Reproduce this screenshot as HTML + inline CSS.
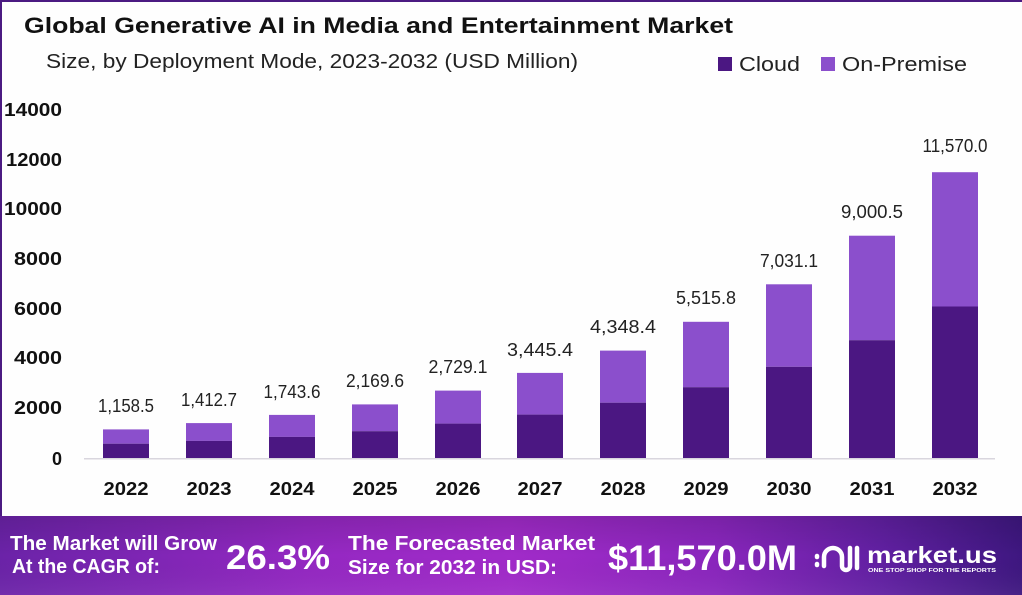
<!DOCTYPE html>
<html><head><meta charset="utf-8"><style>
html,body{margin:0;padding:0;background:#fff;}
svg{display:block;}
text{font-family:"Liberation Sans",sans-serif;}
</style></head><body>
<svg width="1022" height="595" viewBox="0 0 1022 595" xmlns="http://www.w3.org/2000/svg">
<defs>
<linearGradient id="bg" x1="0" y1="0" x2="1" y2="0">
<stop offset="0" stop-color="#6b23a8"/>
<stop offset="0.3" stop-color="#9428c2"/>
<stop offset="0.5" stop-color="#a12bc9"/>
<stop offset="0.7" stop-color="#8a26bd"/>
<stop offset="0.86" stop-color="#6220a3"/>
<stop offset="1" stop-color="#3e1780"/>
</linearGradient>
<linearGradient id="bgv" x1="0" y1="0" x2="0" y2="1">
<stop offset="0" stop-color="#000" stop-opacity="0.12"/>
<stop offset="0.5" stop-color="#000" stop-opacity="0"/>
<stop offset="1" stop-color="#fff" stop-opacity="0.05"/>
</linearGradient>
</defs>
<rect x="0" y="0" width="1022" height="595" fill="#fefefe"/>
<rect x="0" y="0" width="1022" height="2" fill="#4b1a82"/>
<rect x="0" y="0" width="2" height="516" fill="#4b1a82"/>

<text x="24" y="33" font-size="22" font-weight="bold" fill="#111" textLength="709" lengthAdjust="spacingAndGlyphs">Global Generative AI in Media and Entertainment Market</text>
<text x="46" y="68" font-size="20" fill="#222" textLength="532" lengthAdjust="spacingAndGlyphs">Size, by Deployment Mode, 2023-2032 (USD Million)</text>

<rect x="718" y="57" width="14" height="14" fill="#4b1782"/>
<text x="739" y="71" font-size="20" fill="#222" textLength="61" lengthAdjust="spacingAndGlyphs">Cloud</text>
<rect x="821" y="57" width="14" height="14" fill="#8b4fcc"/>
<text x="842" y="71" font-size="20" fill="#222" textLength="125" lengthAdjust="spacingAndGlyphs">On-Premise</text>

<g font-size="18" font-weight="bold" fill="#111" text-anchor="end">
<text x="62" y="116" textLength="58" lengthAdjust="spacingAndGlyphs">14000</text>
<text x="62" y="166" textLength="56" lengthAdjust="spacingAndGlyphs">12000</text>
<text x="62" y="215" textLength="58" lengthAdjust="spacingAndGlyphs">10000</text>
<text x="62" y="265" textLength="48" lengthAdjust="spacingAndGlyphs">8000</text>
<text x="62" y="315" textLength="48" lengthAdjust="spacingAndGlyphs">6000</text>
<text x="62" y="364" textLength="48" lengthAdjust="spacingAndGlyphs">4000</text>
<text x="62" y="414" textLength="48" lengthAdjust="spacingAndGlyphs">2000</text>
<text x="62" y="465">0</text>
</g>

<rect x="84" y="458" width="911" height="1.5" fill="#d9d6de"/>

<g>
<rect x="103" y="429.4" width="46" height="14.3" fill="#8b4fcc"/><rect x="103" y="443.7" width="46" height="14.3" fill="#4b1782"/>
<rect x="186" y="423.1" width="46" height="17.8" fill="#8b4fcc"/><rect x="186" y="440.9" width="46" height="17.1" fill="#4b1782"/>
<rect x="269" y="414.9" width="46" height="22" fill="#8b4fcc"/><rect x="269" y="436.9" width="46" height="21.1" fill="#4b1782"/>
<rect x="352" y="404.4" width="46" height="26.8" fill="#8b4fcc"/><rect x="352" y="431.2" width="46" height="26.8" fill="#4b1782"/>
<rect x="435" y="390.6" width="46" height="33" fill="#8b4fcc"/><rect x="435" y="423.6" width="46" height="34.4" fill="#4b1782"/>
<rect x="517" y="372.9" width="46" height="41.7" fill="#8b4fcc"/><rect x="517" y="414.6" width="46" height="43.4" fill="#4b1782"/>
<rect x="600" y="350.6" width="46" height="52.1" fill="#8b4fcc"/><rect x="600" y="402.7" width="46" height="55.3" fill="#4b1782"/>
<rect x="683" y="321.8" width="46" height="65.4" fill="#8b4fcc"/><rect x="683" y="387.2" width="46" height="70.8" fill="#4b1782"/>
<rect x="766" y="284.3" width="46" height="82.5" fill="#8b4fcc"/><rect x="766" y="366.8" width="46" height="91.2" fill="#4b1782"/>
<rect x="849" y="235.7" width="46" height="104.5" fill="#8b4fcc"/><rect x="849" y="340.2" width="46" height="117.8" fill="#4b1782"/>
<rect x="932" y="172.2" width="46" height="134.3" fill="#8b4fcc"/><rect x="932" y="306.5" width="46" height="151.5" fill="#4b1782"/>
</g>

<g font-size="18" fill="#222" text-anchor="middle">
<text x="126" y="412" textLength="56" lengthAdjust="spacingAndGlyphs">1,158.5</text>
<text x="209" y="406" textLength="56" lengthAdjust="spacingAndGlyphs">1,412.7</text>
<text x="292" y="398" textLength="57" lengthAdjust="spacingAndGlyphs">1,743.6</text>
<text x="375" y="387" textLength="58" lengthAdjust="spacingAndGlyphs">2,169.6</text>
<text x="458" y="373" textLength="59" lengthAdjust="spacingAndGlyphs">2,729.1</text>
<text x="540" y="356" textLength="66" lengthAdjust="spacingAndGlyphs">3,445.4</text>
<text x="623" y="333" textLength="66" lengthAdjust="spacingAndGlyphs">4,348.4</text>
<text x="706" y="304" textLength="60" lengthAdjust="spacingAndGlyphs">5,515.8</text>
<text x="789" y="267" textLength="58" lengthAdjust="spacingAndGlyphs">7,031.1</text>
<text x="872" y="218" textLength="62" lengthAdjust="spacingAndGlyphs">9,000.5</text>
<text x="955" y="152" textLength="65" lengthAdjust="spacingAndGlyphs">11,570.0</text>
</g>

<g font-size="18" font-weight="bold" fill="#111" text-anchor="middle">
<text x="126" y="495" textLength="45" lengthAdjust="spacingAndGlyphs">2022</text>
<text x="209" y="495" textLength="45" lengthAdjust="spacingAndGlyphs">2023</text>
<text x="292" y="495" textLength="45" lengthAdjust="spacingAndGlyphs">2024</text>
<text x="375" y="495" textLength="45" lengthAdjust="spacingAndGlyphs">2025</text>
<text x="458" y="495" textLength="45" lengthAdjust="spacingAndGlyphs">2026</text>
<text x="540" y="495" textLength="45" lengthAdjust="spacingAndGlyphs">2027</text>
<text x="623" y="495" textLength="45" lengthAdjust="spacingAndGlyphs">2028</text>
<text x="706" y="495" textLength="45" lengthAdjust="spacingAndGlyphs">2029</text>
<text x="789" y="495" textLength="45" lengthAdjust="spacingAndGlyphs">2030</text>
<text x="872" y="495" textLength="45" lengthAdjust="spacingAndGlyphs">2031</text>
<text x="955" y="495" textLength="45" lengthAdjust="spacingAndGlyphs">2032</text>
</g>

<rect x="0" y="516" width="1022" height="79" fill="url(#bg)"/>
<rect x="0" y="516" width="1022" height="79" fill="url(#bgv)"/>
<g fill="#fff" font-weight="bold">
<text x="10" y="550" font-size="20" textLength="207" lengthAdjust="spacingAndGlyphs">The Market will Grow</text>
<text x="12" y="573" font-size="20" textLength="148" lengthAdjust="spacingAndGlyphs">At the CAGR of:</text>
<text x="226" y="569" font-size="34" textLength="104" lengthAdjust="spacingAndGlyphs">26.3%</text>
<text x="348" y="550" font-size="20" textLength="247" lengthAdjust="spacingAndGlyphs">The Forecasted Market</text>
<text x="348" y="574" font-size="20" textLength="209" lengthAdjust="spacingAndGlyphs">Size for 2032 in USD:</text>
<text x="608" y="570" font-size="35" textLength="189" lengthAdjust="spacingAndGlyphs">$11,570.0M</text>
<text x="867" y="563" font-size="23" textLength="130" lengthAdjust="spacingAndGlyphs">market.us</text>
<text x="868" y="572" font-size="5.5" textLength="128" lengthAdjust="spacingAndGlyphs">ONE STOP SHOP FOR THE REPORTS</text>
</g>
<g fill="none" stroke="#fff" stroke-width="4.5" stroke-linecap="round">
<path d="M817 556 L817 557"/>
<path d="M817 564 L817 565"/>
<path d="M824 566 L824 557 A9 9 0 0 1 842 557 L842 566 A4 4 0 0 0 850 566 L850 548"/>
<path d="M857 548 L857 568"/>
</g>
</svg>
</body></html>
